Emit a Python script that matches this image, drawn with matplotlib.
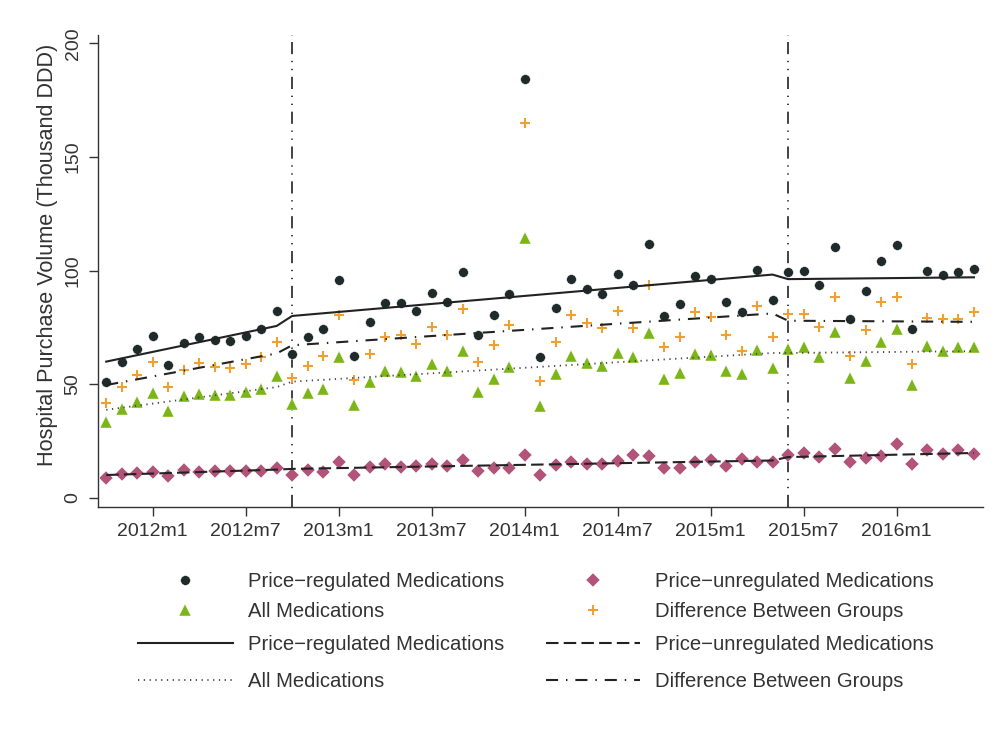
import numpy as np
import matplotlib
matplotlib.use('Agg')
import matplotlib.pyplot as plt

plt.rcParams['font.family'] = ['Liberation Sans', 'DejaVu Sans']
plt.rcParams['text.color'] = '#333333'

# months since 2012m1 (2011m10 .. 2016m6)
months = np.arange(-3, 54)
tick_pos = [0, 6, 12, 18, 24, 30, 36, 42, 48]
tick_labels = ['2012m1', '2012m7', '2013m1', '2013m7', '2014m1',
               '2014m7', '2015m1', '2015m7', '2016m1']
policy_months = [9, 41]

regulated = [51.2, 60.0, 65.4, 71.4, 58.7, 68.3, 70.7, 69.5, 69.2, 71.4,
             74.2, 82.3, 63.4, 70.7, 74.2, 95.9, 62.5, 77.6, 85.6, 85.6,
             82.3, 90.3, 86.2, 99.6, 71.6, 80.4, 89.6, 184.3, 62.2, 83.4,
             96.2, 91.8, 89.6, 98.4, 93.6, 111.7, 80.2, 85.2, 97.7, 96.3,
             86.4, 81.7, 100.2, 87.1, 99.3, 99.9, 93.7, 110.3, 78.6, 91.2,
             104.4, 111.5, 74.2, 99.9, 98.0, 99.3, 100.6]
unregulated = [8.7, 10.6, 10.9, 11.3, 9.7, 12.3, 11.6, 12.0, 12.0, 12.0,
               12.0, 13.2, 10.1, 12.3, 11.6, 16.0, 10.3, 13.8, 14.8, 13.8,
               14.1, 15.0, 14.1, 16.7, 11.9, 13.1, 13.3, 18.9, 10.2, 14.5,
               16.0, 15.0, 14.8, 16.4, 18.9, 18.5, 13.1, 13.3, 16.0, 16.7,
               14.1, 17.3, 16.0, 16.0, 18.9, 19.7, 18.2, 21.6, 16.0, 17.5,
               18.6, 23.8, 15.0, 21.1, 19.4, 21.1, 19.4]
all_meds = [33.6, 39.3, 42.4, 46.2, 38.4, 45.0, 45.9, 45.3, 45.3, 46.5,
            48.1, 53.5, 41.4, 46.3, 48.0, 62.2, 41.1, 50.9, 56.0, 55.6,
            53.8, 58.8, 56.0, 64.7, 46.8, 52.2, 57.6, 114.4, 40.6, 54.6,
            62.5, 59.5, 58.1, 63.9, 62.2, 72.4, 52.2, 55.1, 63.2, 62.8,
            55.9, 54.6, 65.1, 57.3, 65.7, 66.4, 62.2, 72.9, 52.7, 60.4,
            68.5, 74.5, 49.7, 66.9, 64.8, 66.6, 66.6]
difference = [41.9, 49.0, 54.1, 59.7, 48.7, 56.3, 59.3, 57.6, 57.0, 59.1,
              61.9, 68.8, 52.9, 58.2, 62.5, 80.5, 51.9, 63.5, 71.0, 71.7,
              67.8, 75.1, 71.7, 83.1, 59.7, 67.2, 76.0, 165.0, 51.6, 68.8,
              80.4, 76.8, 74.6, 82.1, 74.8, 93.6, 66.6, 71.0, 81.8, 79.6,
              71.9, 64.7, 84.5, 71.0, 81.1, 80.9, 75.1, 88.4, 62.5, 73.8,
              86.1, 88.3, 59.1, 79.0, 78.6, 78.6, 81.8]

# fitted (segmented regression) values at the segment ends
fit_months = [-3, 8, 9, 40, 41, 53]
regulated_fit = [60.0, 75.7, 80.1, 98.3, 96.3, 97.1]
unregulated_fit = [10.1, 12.5, 12.8, 16.5, 18.0, 19.8]
all_fit = [38.8, 48.8, 51.2, 63.8, 63.8, 64.6]
difference_fit = [49.7, 63.6, 67.2, 81.2, 78.0, 77.5]

fig = plt.figure(figsize=(9.99, 7.3), dpi=100)
ax = fig.add_axes([0.0978, 0.306, 0.886, 0.646])

for m in policy_months:
    ax.axvline(m, color='#222222', lw=1.2, ls=(0, (7.3, 4, 0.8, 4, 0.8, 4)), zorder=1)

p1, = ax.plot(months, regulated, 'o', color='#1f2a2a', ms=7, mec='white', mew=0.3,
              zorder=3, label='Price\u2212regulated Medications')
p2, = ax.plot(months, all_meds, '^', color='#7cb518', ms=8.5, mec='white', mew=0.3,
              zorder=3, label='All Medications')
p3, = ax.plot(months, unregulated, 'D', color='#b2537a', ms=6.8, mec='white', mew=0.3,
              zorder=3, label='Price\u2212unregulated Medications')
p4, = ax.plot(months, difference, '+', color='#f0a030', ms=7.5, mew=1.5, zorder=3,
              label='Difference Between Groups')

l1, = ax.plot(fit_months, regulated_fit, '-', color='#222222', lw=1.5, zorder=4,
              label='Price\u2212regulated Medications')
l2, = ax.plot(fit_months, all_fit, color='#444444', lw=1.3, ls=(0, (0.7, 2.5)), zorder=4,
              label='All Medications')
l3, = ax.plot(fit_months, unregulated_fit, color='#222222', lw=1.5, ls=(0, (6, 2.5)), zorder=4,
              label='Price\u2212unregulated Medications')
l4, = ax.plot(fit_months, difference_fit, color='#222222', lw=1.5,
              ls=(0, (5.8, 3.8, 0.7, 3.8)), zorder=4,
              label='Difference Between Groups')

ax.set_xlim(-3.55, 53.57)
ax.set_ylim(-3.8, 203.7)
ax.set_xticks(tick_pos)
ax.set_xticklabels(tick_labels)
ax.set_yticks([0, 50, 100, 150, 200])
for lab in ax.get_yticklabels():
    lab.set_rotation(90)
    lab.set_va('center')
ax.tick_params(axis='both', labelsize=14, colors='#333333', length=6.5, width=1.0, pad=5)
ax.set_ylabel('Hospital Purchase Volume (Thousand DDD)', fontsize=15.6, color='#333333')
ax.yaxis.set_label_coords(-0.0454, 0.534)

for s in ['top', 'right']:
    ax.spines[s].set_visible(False)
for s in ['left', 'bottom']:
    ax.spines[s].set_color('#333333')
    ax.spines[s].set_linewidth(1.0)

leg_kw = dict(ncol=2, frameon=False, fontsize=14.6, handlelength=4.68,
              handletextpad=0.74, columnspacing=2.05, numpoints=1,
              borderpad=0, borderaxespad=0, loc='upper left')
fig.legend(handles=[p1, p2, p3, p4], bbox_to_anchor=(0.138, 0.2164),
           labelspacing=0.54, **leg_kw)
fig.legend(handles=[l1, l2, l3, l4], bbox_to_anchor=(0.138, 0.130),
           labelspacing=0.9, **leg_kw)

fig.savefig('out.png', dpi=100)
